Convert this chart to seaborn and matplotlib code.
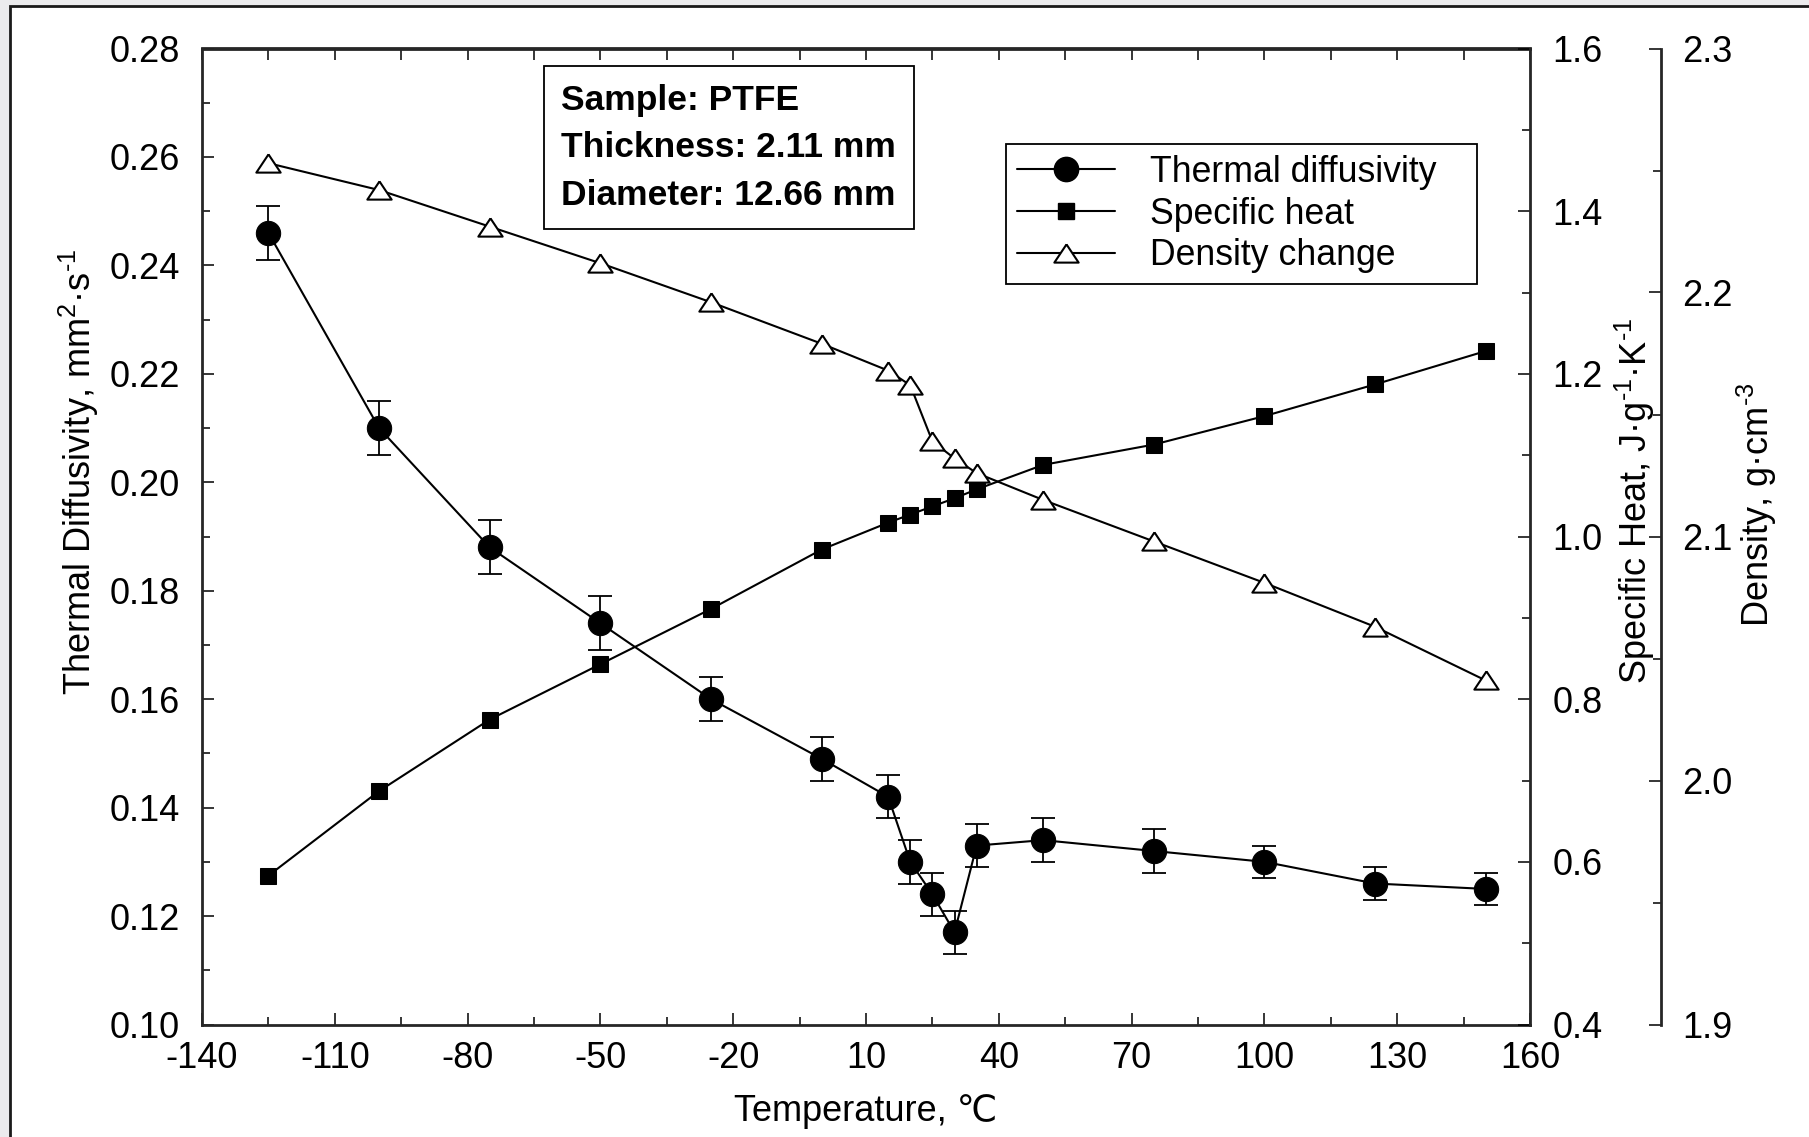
import numpy as np
import pandas as pd
import matplotlib
matplotlib.use("Agg")
import matplotlib.pyplot as plt
from matplotlib.lines import Line2D
from matplotlib.patches import Rectangle
from matplotlib.ticker import FixedLocator, FormatStrFormatter
import seaborn as sns

# ---------------- data ----------------
temperature = [-125, -100, -75, -50, -25, 0, 15, 20, 25, 30, 35, 50, 75, 100, 125, 150]
diffusivity = [0.246, 0.210, 0.188, 0.174, 0.160, 0.149, 0.142, 0.130, 0.124, 0.117,
               0.133, 0.134, 0.132, 0.130, 0.126, 0.125]
diffusivity_err = [0.005, 0.005, 0.005, 0.005, 0.004, 0.004, 0.004, 0.004, 0.004, 0.004,
                   0.004, 0.004, 0.004, 0.003, 0.003, 0.003]
specific_heat = [0.583, 0.687, 0.775, 0.843, 0.911, 0.984, 1.017, 1.027, 1.037, 1.047,
                 1.058, 1.088, 1.113, 1.148, 1.187, 1.228]
density = [2.253, 2.242, 2.227, 2.212, 2.196, 2.179, 2.168, 2.162, 2.139, 2.132,
           2.126, 2.115, 2.098, 2.081, 2.063, 2.041]

series_labels = ["Thermal diffusivity", "Specific heat", "Density change"]
info_lines = ["Sample: PTFE", "Thickness: 2.11 mm", "Diameter: 12.66 mm"]

df = pd.DataFrame({"T": temperature, "a": diffusivity, "err": diffusivity_err,
                   "cp": specific_heat, "rho": density})

# ---------------- style ----------------
sns.set_style("ticks")
plt.rcParams["font.family"] = ["Liberation Sans", "DejaVu Sans"]
plt.rcParams["mathtext.fontset"] = "custom"
plt.rcParams["mathtext.rm"] = "Liberation Sans"
plt.rcParams["mathtext.it"] = "Liberation Sans:italic"
plt.rcParams["axes.unicode_minus"] = False
plt.rcParams["axes.linewidth"] = 2.0
plt.rcParams["text.color"] = "black"
plt.rcParams["axes.labelcolor"] = "black"
plt.rcParams["xtick.color"] = "black"
plt.rcParams["ytick.color"] = "black"

W, H, DPI = 1809, 1137, 100
fig = plt.figure(figsize=(W / DPI, H / DPI), dpi=DPI)
fig.patch.set_facecolor("#ebebed")
frame = Rectangle((10 / W, -0.2), 1.5, 1 - 6 / H + 0.2, transform=fig.transFigure,
                  facecolor="white", edgecolor="#1a1a1a", linewidth=2.0, zorder=-5)
fig.add_artist(frame)

L, R, T, B = 202, 1530, 48.5, 1024.5
ax = fig.add_axes([L / W, 1 - B / H, (R - L) / W, (B - T) / H])
ax.set_facecolor("none")
ax2 = ax.twinx()
ax3 = ax.twinx()
ax3.spines["right"].set_position(("axes", 1 + 131 / (R - L)))

FS = 26
tri = [(0, 0.75), (-1, -0.75), (1, -0.75), (0, 0.75)]

# thermal diffusivity with error bars
ax.errorbar(df["T"], df["a"], yerr=df["err"], fmt="none", ecolor="black",
            elinewidth=1.3, capsize=8.8, capthick=1.3, zorder=2)
sns.lineplot(data=df, x="T", y="a", ax=ax, color="black", linewidth=1.5,
             marker="o", markersize=17.5, markeredgecolor="black",
             markerfacecolor="black", sort=False, legend=False, zorder=3)
# specific heat
sns.lineplot(data=df, x="T", y="cp", ax=ax2, color="black", linewidth=1.5,
             marker="s", markersize=11.5, markeredgecolor="black",
             markerfacecolor="black", sort=False, legend=False, zorder=3)
# density
sns.lineplot(data=df, x="T", y="rho", ax=ax3, color="black", linewidth=1.5,
             marker=tri, markersize=17.5, markeredgecolor="black",
             markerfacecolor="white", markeredgewidth=1.5, sort=False,
             legend=False, zorder=3)

# ---------------- axes ----------------
ax.set_xlim(-140, 160)
ax.set_ylim(0.10, 0.28)
ax2.set_ylim(0.4, 1.6)
ax3.set_ylim(1.9, 2.3)

ax.xaxis.set_major_locator(FixedLocator(np.arange(-140, 161, 30)))
ax.xaxis.set_minor_locator(FixedLocator(np.arange(-125, 160, 30)))
ax.yaxis.set_major_locator(FixedLocator(np.round(np.arange(0.10, 0.281, 0.02), 2)))
ax.yaxis.set_minor_locator(FixedLocator(np.round(np.arange(0.11, 0.28, 0.02), 2)))
ax.yaxis.set_major_formatter(FormatStrFormatter("%.2f"))
ax2.yaxis.set_major_locator(FixedLocator(np.round(np.arange(0.4, 1.61, 0.2), 1)))
ax2.yaxis.set_minor_locator(FixedLocator(np.round(np.arange(0.5, 1.6, 0.2), 1)))
ax2.yaxis.set_major_formatter(FormatStrFormatter("%.1f"))
ax3.yaxis.set_major_locator(FixedLocator(np.round(np.arange(1.9, 2.31, 0.1), 1)))
ax3.yaxis.set_minor_locator(FixedLocator(np.round(np.arange(1.95, 2.3, 0.1), 2)))
ax3.yaxis.set_major_formatter(FormatStrFormatter("%.1f"))

for a in (ax, ax2, ax3):
    a.tick_params(which="major", direction="in", length=8.5, width=1.1, labelsize=FS)
    a.tick_params(which="minor", direction="in", length=5.5, width=1.1)
ax.tick_params(axis="y", which="major", pad=16)
ax.tick_params(axis="x", which="major", pad=12)
ax.tick_params(axis="both", which="both", top=False, right=False)
ax2.tick_params(axis="y", which="major", pad=16)
ax3.tick_params(axis="y", which="major", pad=15)

for s in ("left", "top", "bottom"):
    ax2.spines[s].set_visible(False)
    ax3.spines[s].set_visible(False)
ax.spines["right"].set_visible(False)
ax3.spines["right"].set_linewidth(2.0)
ax2.spines["right"].set_linewidth(2.0)

top = ax.secondary_xaxis("top")
top.xaxis.set_major_locator(FixedLocator(np.arange(-140, 161, 15)))
top.tick_params(direction="in", length=8.5, width=1.1, labelsize=0, labeltop=False)
top.spines["top"].set_linewidth(2.0)

# ---------------- labels ----------------
ax.set_xlabel("Temperature, \u2103", fontsize=FS)
ax.xaxis.set_label_coords(0.5, -0.071)
ax.set_ylabel(r"Thermal Diffusivity, mm$^\mathregular{2}$·s$^\text{-1}$", fontsize=FS)
ax.yaxis.set_label_coords(-0.076, 0.566)
ax2.set_ylabel(r"Specific Heat, J·g$^\text{-1}$·K$^\text{-1}$", fontsize=FS)
ax2.yaxis.set_label_coords(1.062, 0.537)
ax3.set_ylabel(r"Density, g·cm$^\text{-3}$", fontsize=FS)
ax3.yaxis.set_label_coords(1.154, 0.533)

# ---------------- legend ----------------
handles = [
    Line2D([], [], color="black", lw=1.5, marker="o", markersize=17.5, mfc="black", mec="black"),
    Line2D([], [], color="black", lw=1.5, marker="s", markersize=11.5, mfc="black", mec="black"),
    Line2D([], [], color="black", lw=1.5, marker=tri, markersize=17.5, mfc="white",
           mec="black", mew=1.5),
]
lx0 = (1006 - L) / (R - L)
lw_ = (1477 - 1006) / (R - L)
leg = ax3.legend(handles, series_labels, loc="upper left",
                 bbox_to_anchor=(lx0, 0.802, lw_, 0.1), mode="expand", borderaxespad=0,
                 fontsize=25.7, frameon=True, fancybox=False, edgecolor="black",
                 framealpha=1, handlelength=2.75, handletextpad=0.98,
                 labelspacing=0.19, borderpad=0.3)
leg.get_frame().set_linewidth(1.3)

ax3.text((544.5 - L + 17) / (R - L), (B - 66 - 18) / (B - T), "\n".join(info_lines),
         transform=ax3.transAxes, fontsize=25.5, fontweight="bold", va="top", ha="left",
         linespacing=1.55,
         bbox=dict(boxstyle="square,pad=0.5", facecolor="white", edgecolor="black",
                   linewidth=1.3))

fig.savefig("out.png", dpi=DPI, facecolor=fig.get_facecolor())
